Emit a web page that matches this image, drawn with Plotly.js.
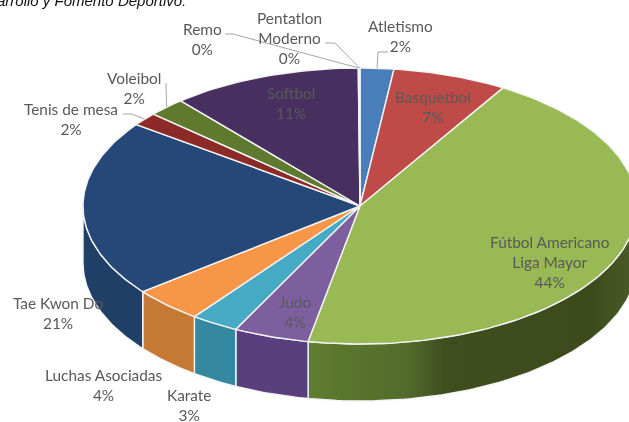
<!DOCTYPE html>
<html>
<head>
<meta charset="utf-8">
<script src="https://cdn.plot.ly/plotly-3.0.1.min.js"></script>
<style>html,body{margin:0;padding:0;background:#fff;overflow:hidden}#chart{width:629px;height:422px;filter:blur(0.4px)}</style>
</head>
<body>
<div id="chart"></div>
<script>
// Data, clockwise from twelve o'clock
const categories = ['Atletismo','Basquetbol','Fútbol Americano<br>Liga Mayor','Judo','Karate','Luchas Asociadas','Tae Kwon Do','Tenis de mesa','Voleibol','Softbol','Remo','Pentatlon<br>Moderno'];
const values = [1.96,6.68,44.36,4.4,2.8,4.15,20.7,1.55,2.2,11.1,0.05,0.05];
const topColors = ['#4a7ebb','#be4b48','#98b954','#7d5fa0','#46aac5','#f79646','#264878','#8c2a28','#5f7a2e','#47305f','#3f5f8f','#a05050'];
const wallColors = ['#355f8f','#8e3836','#5d7a30','#5a3f7f','#3488a0','#c47a35','#1f3f66','#6a1f1d','#46591f','#33223f','#2f4f6f','#703838'];
const greenWall = [[0,'#5f7d30'],[0.3,'#526b2b'],[0.42,'#3f4d1f'],[0.85,'#3c4a1c'],[1,'#4a5c26']];
const labelColor = '#595959';
const labelX = [400,433,550,295,189,103,58,71,134,291,202,289];
const labelY = [36,107,262,312,405,385,313,119,88,103,39,38];
const leaders = {0:[[388,52],[378,52]],7:[[123,114],[132,114]],8:[[166,83]],10:[[225,34],[233,34]],11:[[325,43],[335,43]]};

// Pie geometry in page-sized axis units
const cx = 360, cy = 206, rx = 277, ry = 138, depth = 57;
const total = values.reduce((a,b)=>a+b,0);
const pt = (deg,dy=0)=>{const t=deg*Math.PI/180;return [cx+rx*Math.sin(t),cy-ry*Math.cos(t)+dy];};
const arc = (a,b,dy=0)=>{const n=Math.max(2,Math.ceil(Math.abs(b-a)));const o=[];for(let i=0;i<=n;i++)o.push(pt(a+(b-a)*i/n,dy));return o;};

let acc = 0;
const spans = values.map(v=>{const s=[acc,acc+v/total*360];acc=s[1];return s;});

const traces = [];
const poly = (pts,fill,extra)=>Object.assign({type:'scatter',mode:'lines',x:pts.map(p=>p[0]),y:pts.map(p=>p[1]),fill:'toself',fillcolor:fill,
  line:{color:'#f4f4f4',width:1.4},hoverinfo:'skip',showlegend:false},extra||{});

// side wall: the front half only
spans.forEach((s,i)=>{
  const a=Math.max(s[0],90), b=Math.min(s[1],270);
  if(b<=a) return;
  const top=arc(a,b), bot=arc(b,a,depth);
  const pts=top.concat(bot,[top[0]]);
  const extra = i===2 ? {fillgradient:{type:'horizontal',colorscale:greenWall}} : {};
  traces.push(poly(pts,wallColors[i],extra));
});
// top face
spans.forEach((s,i)=>{
  const pts=[[cx,cy]].concat(arc(s[0],s[1]),[[cx,cy]]);
  traces.push(poly(pts,topColors[i]));
});
// leader lines run from the label to the rim at the middle of the slice
Object.keys(leaders).forEach(k=>{
  const s=spans[k], end=pt((s[0]+s[1])/2);
  const pts=leaders[k].concat([end]);
  traces.push({type:'scatter',mode:'lines',x:pts.map(p=>p[0]),y:pts.map(p=>p[1]),line:{color:'#a6a6a6',width:1},hoverinfo:'skip',showlegend:false});
});

const annotations = categories.map((c,i)=>({
  x:labelX[i],y:labelY[i],xref:'x',yref:'y',xanchor:'center',yanchor:'middle',align:'center',showarrow:false,
  text:c+'<br>'+Math.round(values[i]/total*100)+'%',
  font:{family:'Lato, "Open Sans", sans-serif',size:15.4,color:labelColor}
}));
annotations.push({x:0,y:0,xref:'x',yref:'y',xshift:-5,yshift:0,xanchor:'left',yanchor:'middle',showarrow:false,
  text:'<i>arrollo y Fomento Deportivo.</i>',font:{family:'"Liberation Sans", Arial, sans-serif',size:15,color:'#111'}});

const hidden = {visible:false,fixedrange:true,showgrid:false,zeroline:false};
Plotly.newPlot('chart',traces,{
  width:629,height:422,margin:{l:0,r:0,t:0,b:0},paper_bgcolor:'#fff',plot_bgcolor:'#fff',
  xaxis:Object.assign({range:[0,629]},hidden),
  yaxis:Object.assign({range:[422,0]},hidden),
  annotations:annotations,showlegend:false
},{displayModeBar:false,staticPlot:true});
</script>
</body>
</html>
